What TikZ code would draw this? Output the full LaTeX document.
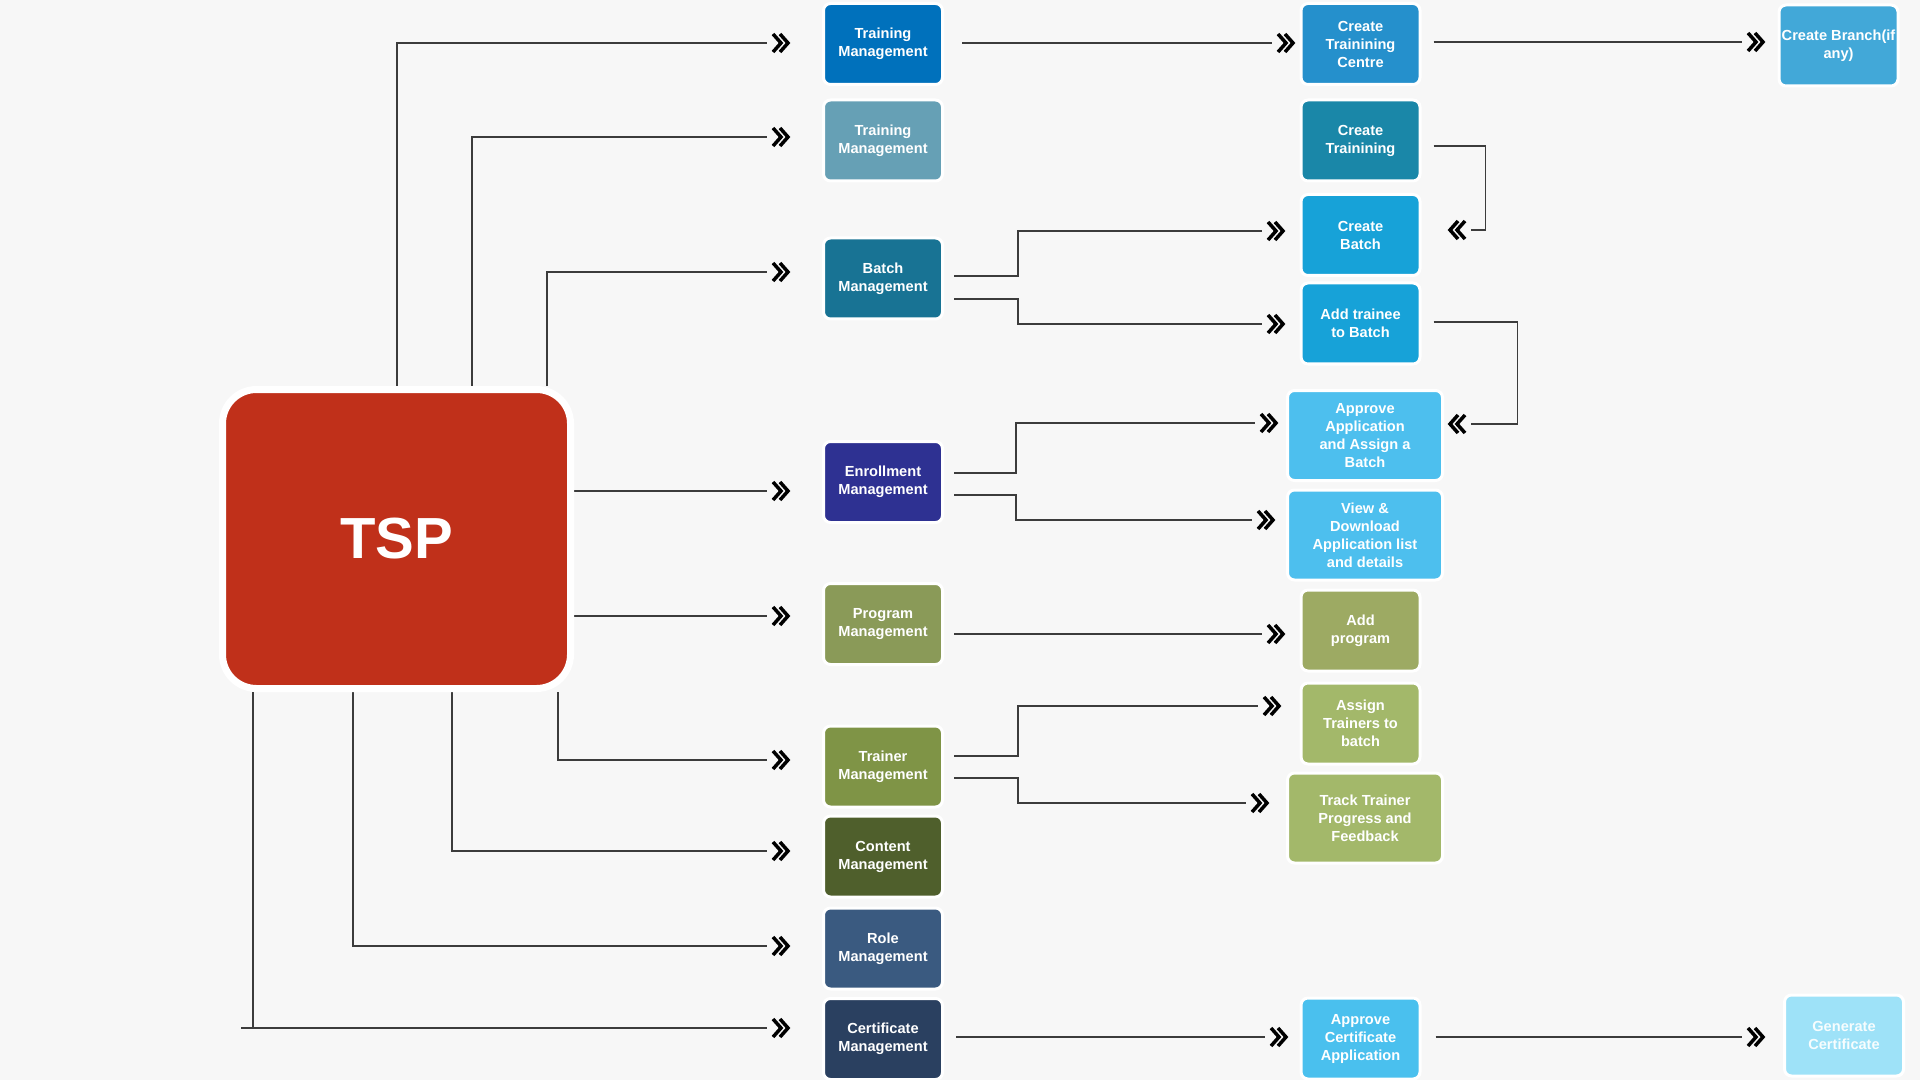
\documentclass[tikz,border=0pt]{standalone}
\usepackage{fontspec}
\setmainfont{Liberation Sans}
\usetikzlibrary{backgrounds}
\definecolor{bgc}{HTML}{F7F7F7}
\definecolor{tspred}{HTML}{C0301A}
\definecolor{cTMa}{HTML}{0071BC}
\definecolor{cTMb}{HTML}{66A0B5}
\definecolor{cBatch}{HTML}{187394}
\definecolor{cEnr}{HTML}{2E3192}
\definecolor{cProg}{HTML}{8A9A58}
\definecolor{cTrn}{HTML}{7F9446}
\definecolor{cCont}{HTML}{4F5F2C}
\definecolor{cRole}{HTML}{3A5A80}
\definecolor{cCert}{HTML}{2A4060}
\definecolor{cCtc}{HTML}{2590CC}
\definecolor{cBranch}{HTML}{42A8D8}
\definecolor{cCtr}{HTML}{1A87A8}
\definecolor{cCb}{HTML}{17A2D8}
\definecolor{cAppr}{HTML}{4DBFEE}
\definecolor{cAddp}{HTML}{9DAA63}
\definecolor{cAsg}{HTML}{A3B86A}
\definecolor{cAcert}{HTML}{4AC0EE}
\definecolor{cGen}{HTML}{9EE2F8}
\definecolor{lineC}{HTML}{3C3C3C}
\begin{document}
\begin{tikzpicture}[x=0.5pt,y=-0.5pt,
  box/.style={rounded corners=3.5pt, draw=white, line width=1.5pt, text=white,
    font=\fontsize{7.3}{9}\selectfont\bfseries, align=center, inner sep=0pt,
    minimum width=59.5pt, minimum height=40.5pt},
  wbox/.style={box, minimum width=77.5pt, minimum height=45pt},
  conn/.style={draw=lineC, line width=0.7pt},
  chevstroke/.style={draw=black, line width=1.75pt, line join=miter, line cap=butt},
  chev/.pic={\draw[chevstroke] (6,-9) -- (14,0) -- (6,9);
             \draw[chevstroke] (13,-9) -- (21,0) -- (13,9);}
]
\useasboundingbox (0,0) rectangle (1920,1080);

% central node
\node[draw=white, line width=3.5pt, fill=tspred, rounded corners=17pt,
      minimum width=174pt, minimum height=149.5pt, inner sep=0pt,
      text=white, font=\fontsize{29}{35}\selectfont\bfseries] (tsp) at (396.5,539) {TSP};

% first column
\node[box, fill=cTMa]   (tm1)   at (883,44)    {Training\\Management};
\node[box, fill=cTMb]   (tm2)   at (883,140.5) {Training\\Management};
\node[box, fill=cBatch] (batch) at (883,278.5) {Batch\\Management};
\node[box, fill=cEnr]   (enr)   at (883,482)   {Enrollment\\Management};
\node[box, fill=cProg]  (prog)  at (883,624)   {Program\\Management};
\node[box, fill=cTrn]   (trn)   at (883,766.5) {Trainer\\Management};
\node[box, fill=cCont]  (cont)  at (883,856.5) {Content\\Management};
\node[box, fill=cRole]  (role)  at (883,948.5) {Role\\Management};
\node[box, fill=cCert]  (cert)  at (883,1039)  {Certificate\\Management};

% second column
\node[box, fill=cCtc]    (ctc)   at (1360.5,44)    {Create\\Trainining\\Centre};
\node[box, fill=cCtr]    (ctr)   at (1360.5,140.5) {Create\\Trainining};
\node[box, fill=cCb]     (cb)    at (1360.5,235)   {Create\\Batch};
\node[box, fill=cCb]     (addt)  at (1360.5,323.5) {Add trainee\\to Batch};
\node[wbox, fill=cAppr]  (appr)  at (1365,435.5)   {Approve\\Application\\and Assign a\\Batch};
\node[wbox, fill=cAppr]  (view)  at (1365,535)     {View \&\\Download\\Application list\\and details};
\node[box, fill=cAddp]   (addp)  at (1360.5,630.5) {Add\\program};
\node[box, fill=cAsg]    (asg)   at (1360.5,723.5) {Assign\\Trainers to\\batch};
\node[wbox, fill=cAsg]   (track) at (1365,818)     {Track Trainer\\Progress and\\Feedback};
\node[box, fill=cAcert]  (acert) at (1360.5,1038.5){Approve\\Certificate\\Application};

% third column
\node[box, fill=cBranch] (branch) at (1838.5,45.5) {Create Branch(if\\any)};
\node[box, fill=cGen, text=white!92!cGen] (gen) at (1844,1035.5) {Generate\\Certificate};

% line end coordinates
\coordinate (e1) at (767,43);
\coordinate (e2) at (767,137);
\coordinate (e3) at (767,272);
\coordinate (e4) at (767,491);
\coordinate (e5) at (767,616);
\coordinate (e6) at (767,760);
\coordinate (e7) at (767,851);
\coordinate (e8) at (767,946);
\coordinate (e9) at (767,1028);
\coordinate (s9) at (241,1028);
\coordinate (f1) at (1272,43);
\coordinate (f2) at (1742,42);
\coordinate (f3) at (1262,231);
\coordinate (f4) at (1262,324);
\coordinate (f5) at (1471,230);
\coordinate (f6) at (1471,424);
\coordinate (f7) at (1255,423);
\coordinate (f8) at (1252,520);
\coordinate (f9) at (1262,634);
\coordinate (f10) at (1258,706);
\coordinate (f11) at (1246,803);
\coordinate (f12) at (1265,1037);
\coordinate (f13) at (1742,1037);

\begin{pgfonlayer}{background}
\fill[bgc] (0,0) rectangle (1920,1080);
% TSP to first column
\draw[conn] ([xshift=0.25pt]tsp.north)  |- (e1);
\draw[conn] ([xshift=37.75pt]tsp.north) |- (e2);
\draw[conn] ([xshift=75.25pt]tsp.north) |- (e3);
\draw[conn] (tsp.east |- e4) -- (e4);
\draw[conn] (tsp.east |- e5) -- (e5);
\draw[conn] ([xshift=80.75pt]tsp.south)  |- (e6);
\draw[conn] ([xshift=27.75pt]tsp.south)  |- (e7);
\draw[conn] ([xshift=-21.75pt]tsp.south) |- (e8);
\draw[conn] ([xshift=-71.75pt]tsp.south) -- ([xshift=-71.75pt]tsp.south |- s9);
\draw[conn] (s9) -- (e9);
\foreach \e in {e1,e2,e3,e4,e5,e6,e7,e8,e9} \pic at (\e) {chev};

% second level
\draw[conn] ([xshift=9pt,yshift=0.5pt]tm1.east) -- (f1);
\draw[conn] ([xshift=6pt,yshift=1pt]ctc.east) -- (f2);
\draw[conn] ([xshift=5pt,yshift=1.25pt]batch.east) -- ++(64,0) |- (f3);
\draw[conn] ([xshift=5pt,yshift=-10.25pt]batch.east) -- ++(64,0) |- (f4);
\draw[conn] ([xshift=6pt,yshift=-2.75pt]ctr.east) -- ++(52,0) |- (f5);
\draw[conn] ([xshift=6pt,yshift=0.75pt]addt.east) -- ++(84,0) |- (f6);
\draw[conn] ([xshift=5pt,yshift=4.5pt]enr.east) -- ++(62,0) |- (f7);
\draw[conn] ([xshift=5pt,yshift=-6.5pt]enr.east) -- ++(62,0) |- (f8);
\draw[conn] ([xshift=5pt,yshift=-5pt]prog.east) -- (f9);
\draw[conn] ([xshift=5pt,yshift=5.25pt]trn.east) -- ++(64,0) |- (f10);
\draw[conn] ([xshift=5pt,yshift=-5.75pt]trn.east) -- ++(64,0) |- (f11);
\draw[conn] ([xshift=6pt,yshift=1pt]cert.east) -- (f12);
\draw[conn] ([xshift=7pt,yshift=0.75pt]acert.east) -- (f13);
\foreach \f in {f1,f2,f3,f4,f7,f8,f9,f10,f11,f12,f13} \pic at (\f) {chev};
\pic[rotate=180] at (f5) {chev};
\pic[rotate=180] at (f6) {chev};
\end{pgfonlayer}
\end{tikzpicture}
\end{document}
